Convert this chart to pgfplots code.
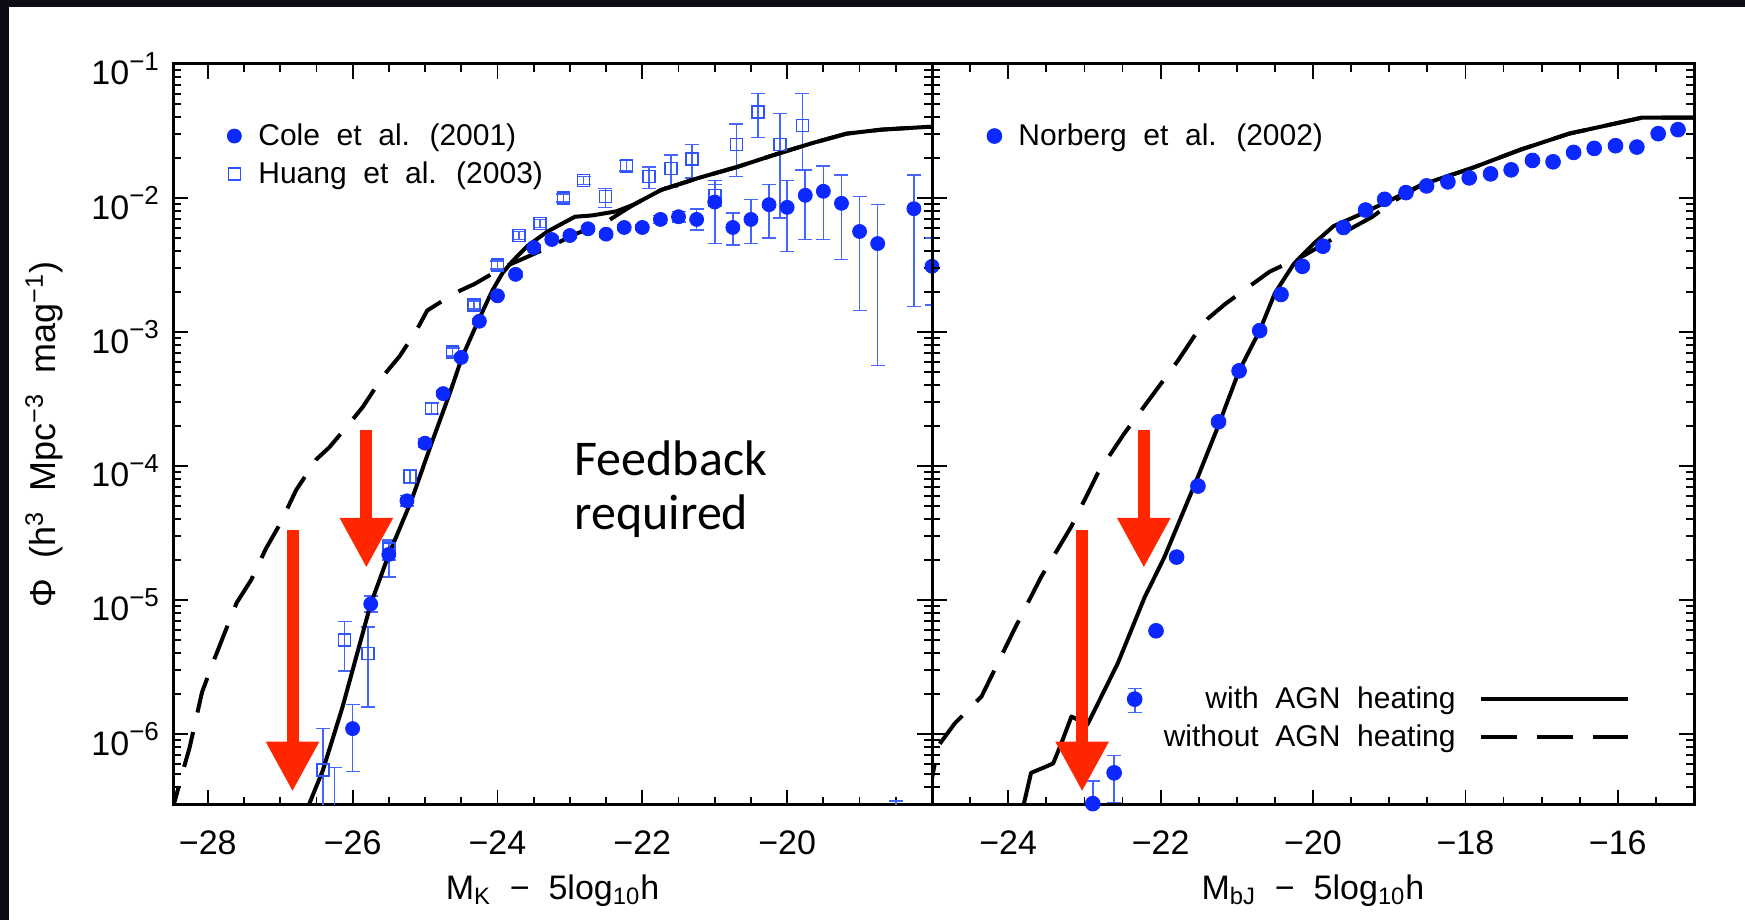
\documentclass[border=0pt]{standalone}
\usepackage{fontspec}
\setmainfont{Liberation Sans}
\newfontfamily\carlito{Carlito}
\usepackage{pgfplots}
\pgfplotsset{compat=1.18}
\usetikzlibrary{arrows.meta}

\definecolor{dotblue}{RGB}{10,40,255}
\definecolor{errblue}{RGB}{70,100,255}
\definecolor{sqblue}{RGB}{45,85,255}
\definecolor{arrowred}{RGB}{255,38,0}
\definecolor{strip}{RGB}{12,12,22}

\newcommand{\tf}{\fontsize{17}{20}\selectfont}
\newcommand{\lf}{\fontsize{15}{18}\selectfont}
\newcommand{\tl}[1]{10\raisebox{0.42em}{\fontsize{13}{14}\selectfont −#1}}

\tikzset{
  colestyle/.style={only marks, mark=*, mark size=3.5pt, dotblue,
    mark options={draw=dotblue, fill=dotblue}},
  huangstyle/.style={only marks, mark=square, mark size=3pt, sqblue,
    mark options={draw=sqblue, fill=none, line width=0.8pt}},
  solidcurve/.style={black, line width=2pt, line join=round},
  dashcurve/.style={black, line width=2pt, dash pattern=on 18pt off 10pt},
  redarrow/.style={arrowred, line width=6pt, -{Triangle[length=25pt,width=25pt]}},
}

\pgfplotsset{
  panel/.style={
    scale only axis,
    height=370.5pt,
    ymin=-6.53, ymax=-1,
    axis line style={line width=1.5pt},
    tick style={black, line width=0.9pt},
    major tick length=7.5pt,
    minor tick length=4pt,
    tick align=inside,
    ytick={-6,-5,-4,-3,-2,-1},
    minor ytick={-6.52288,-6.39794,-6.30103,-6.22185,-6.15490,-6.09691,-6.04576,
      -5.69897,-5.52288,-5.39794,-5.30103,-5.22185,-5.15490,-5.09691,-5.04576,
      -4.69897,-4.52288,-4.39794,-4.30103,-4.22185,-4.15490,-4.09691,-4.04576,
      -3.69897,-3.52288,-3.39794,-3.30103,-3.22185,-3.15490,-3.09691,-3.04576,
      -2.69897,-2.52288,-2.39794,-2.30103,-2.22185,-2.15490,-2.09691,-2.04576,
      -1.69897,-1.52288,-1.39794,-1.30103,-1.22185,-1.15490,-1.09691,-1.04576},
    xticklabel style={anchor=base, yshift=-24.75pt, font=\tf},
    yticklabel style={font=\tf, xshift=-3.5pt, yshift=-2.5pt},
    xlabel style={at={(axis description cs:0.5,-0.127)}, anchor=base, font=\tf},
    legend style={draw=none, fill=none, inner sep=0pt, font=\lf, row sep=6.7pt,
      nodes={inner sep=0pt}},
    legend cell align=left,
    legend image code/.code={\draw[##1] plot coordinates {(0pt,0pt)};
      \path[draw=none, fill=none] (-4pt,0pt) -- (12pt,0pt);},
  },
  errs/.style={error bars/.cd, y dir=both, y explicit,
    error bar style={errblue, line width=0.8pt},
    error mark options={errblue, line width=0.8pt, mark size=3.5pt, rotate=90}},
}

\begin{document}
\begin{tikzpicture}
\fill[white] (0,0) rectangle (872.5pt,460pt);
\useasboundingbox (0,0) rectangle (872.5pt,460pt);
\fill[strip] (0,456.5pt) rectangle (872.5pt,460pt);
\fill[strip] (0,0) rectangle (4.5pt,460pt);

% ---------------- left panel ----------------
\begin{axis}[panel, at={(86.5pt,57.5pt)}, anchor=south west, width=379.5pt,
  xmin=-28.48, xmax=-18,
  xtick={-28,-26,-24,-22,-20}, xticklabels={−28,−26,−24,−22,−20},
  minor xtick={-27.5,-27,-26.5,-25.5,-25,-24.5,-23.5,-23,-22.5,-21.5,-21,-20.5,-19.5,-19,-18.5},
  yticklabels={\tl{6},\tl{5},\tl{4},\tl{3},\tl{2},\tl{1}},
  xlabel={M\textsubscript{K} \ − \ 5log\textsubscript{10}h},
  ylabel={Φ \ (h\textsuperscript{3} \ Mpc\textsuperscript{−3} \ mag\textsuperscript{−1})},
  ylabel style={at={(axis description cs:-0.17,0.5)}, anchor=center, font=\fontsize{18}{20}\selectfont},
  legend style={at={(axis description cs:0.0698,0.920)}, anchor=north west},
]
\addplot[huangstyle, forget plot, errs] table[x=M, y=ly,
  y error plus expr=\thisrow{hi}-\thisrow{ly},
  y error minus expr=\thisrow{ly}-\thisrow{lo}] {
M ly hi lo
-26.41 -6.27 -5.96 -6.80
-26.11 -5.30 -5.16 -5.53
-25.79 -5.40 -5.20 -5.80
-25.50 -4.62 -4.55 -4.70
-25.21 -4.08 -4.03 -4.13
-24.91 -3.57 -3.53 -3.61
-24.62 -3.15 -3.12 -3.18
-24.32 -2.80 -2.77 -2.83
-24.00 -2.50 -2.47 -2.53
-23.70 -2.28 -2.25 -2.31
-23.41 -2.19 -2.16 -2.22
-23.09 -2.00 -1.97 -2.03
-22.81 -1.87 -1.84 -1.90
-22.51 -1.99 -1.93 -2.07
-22.22 -1.76 -1.72 -1.80
-21.91 -1.84 -1.77 -1.93
-21.60 -1.78 -1.68 -1.92
-21.31 -1.71 -1.60 -1.85
-21.00 -1.98 -1.90 -2.06
-20.70 -1.60 -1.45 -1.84
-20.40 -1.36 -1.22 -1.55
-20.10 -1.60 -1.37 -2.15
-19.79 -1.46 -1.22 -1.79
};
\addplot[colestyle, forget plot, errs] table[x=M, y=ly,
  y error plus expr=\thisrow{hi}-\thisrow{ly},
  y error minus expr=\thisrow{ly}-\thisrow{lo}] {
M ly hi lo
-26.25 -6.80 -6.25 -7.50
-26.00 -5.96 -5.78 -6.28
-25.75 -5.03 -4.97 -5.09
-25.50 -4.66 -4.56 -4.83
-25.25 -4.26 -4.22 -4.30
-25.00 -3.83 -3.80 -3.86
-24.75 -3.46 -3.44 -3.48
-24.50 -3.19 -3.17 -3.21
-24.25 -2.92 -2.90 -2.94
-24.00 -2.73 -2.71 -2.75
-23.75 -2.57 -2.55 -2.59
-23.50 -2.37 -2.35 -2.39
-23.25 -2.31 -2.29 -2.33
-23.00 -2.28 -2.26 -2.30
-22.75 -2.23 -2.21 -2.25
-22.50 -2.27 -2.25 -2.29
-22.25 -2.22 -2.20 -2.24
-22.00 -2.22 -2.20 -2.24
-21.75 -2.16 -2.13 -2.19
-21.50 -2.14 -2.10 -2.18
-21.25 -2.16 -2.08 -2.24
-21.00 -2.03 -1.87 -2.34
-20.75 -2.22 -2.11 -2.35
-20.50 -2.16 -2.01 -2.34
-20.25 -2.05 -1.90 -2.30
-20.00 -2.07 -1.87 -2.40
-19.75 -1.98 -1.79 -2.31
-19.50 -1.95 -1.76 -2.31
-19.25 -2.04 -1.83 -2.46
-19.00 -2.25 -1.99 -2.84
-18.75 -2.34 -2.05 -3.25
-18.50 -6.57 -6.50 -6.70
-18.25 -2.08 -1.83 -2.81
-18.00 -2.51 -2.30 -2.80
};
\addplot[solidcurve, forget plot] table[x=M, y=ly] {
M ly
-26.65 -6.62
-26.59 -6.51
-26.41 -6.27
-26.14 -5.80
-25.75 -5.03
-25.50 -4.66
-25.19 -4.26
-24.91 -3.83
-24.66 -3.46
-24.49 -3.19
-24.26 -2.91
-24.07 -2.69
-23.93 -2.56
-23.79 -2.47
-23.59 -2.36
-23.31 -2.25
-22.93 -2.14
-22.69 -2.13
-22.36 -2.10
-22.12 -2.05
-21.74 -1.94
-21.22 -1.85
-20.70 -1.77
-20.13 -1.67
-19.65 -1.59
-19.18 -1.52
-18.70 -1.49
-18.08 -1.47
-18.00 -1.47
};
\addplot[dashcurve, forget plot] table[x=M, y=ly] {
M ly
-28.52 -6.65
-28.46 -6.51
-28.34 -6.27
-28.25 -6.10
-28.08 -5.69
-27.93 -5.47
-27.77 -5.25
-27.60 -5.02
-27.40 -4.85
-27.20 -4.62
-27.00 -4.43
-26.78 -4.18
-26.50 -3.95
-26.32 -3.86
-26.04 -3.68
-25.86 -3.56
-25.58 -3.33
-25.35 -3.18
-25.12 -2.99
-24.97 -2.84
-24.59 -2.71
-24.31 -2.64
-23.93 -2.52
-23.59 -2.44
-23.26 -2.36
-22.93 -2.27
-22.50 -2.18
-22.27 -2.10
-22.12 -2.05
-21.74 -1.94
-21.22 -1.85
-20.70 -1.77
-20.13 -1.67
-19.65 -1.59
-19.18 -1.52
-18.70 -1.49
-18.08 -1.47
-18.00 -1.47
};
\addlegendimage{colestyle}
\addlegendentry{Cole \ et \ al. \ (2001)}
\addlegendimage{huangstyle}
\addlegendentry{Huang \ et \ al. \ (2003)}
\draw[redarrow] (axis cs:-26.83,-4.48) -- (axis cs:-26.83,-6.43);
\draw[redarrow] (axis cs:-25.81,-3.73) -- (axis cs:-25.81,-4.76);
\node[anchor=north west, align=left, inner sep=0pt,
  font=\carlito\fontsize{25}{27}\selectfont] at (axis cs:-22.94,-3.81) {Feedback\\required};
\end{axis}

% ---------------- right panel ----------------
\begin{axis}[panel, at={(466pt,57.5pt)}, anchor=south west, width=381pt,
  xmin=-25, xmax=-15,
  xtick={-24,-22,-20,-18,-16}, xticklabels={−24,−22,−20,−18,−16},
  minor xtick={-24.5,-23.5,-23,-22.5,-21.5,-21,-20.5,-19.5,-19,-18.5,-17.5,-17,-16.5,-15.5},
  yticklabels={},
  xlabel={M\textsubscript{bJ} \ − \ 5log\textsubscript{10}h},
  legend style={at={(axis description cs:0.0709,0.920)}, anchor=north west},
]
\addplot[colestyle, mark size=3.7pt, forget plot, errs] table[x=M, y=ly,
  y error plus expr=\thisrow{hi}-\thisrow{ly},
  y error minus expr=\thisrow{ly}-\thisrow{lo}] {
M ly hi lo
-22.89 -6.52 -6.35 -6.70
-22.61 -6.29 -6.16 -6.51
-22.34 -5.74 -5.66 -5.84
-22.06 -5.23 -5.21 -5.25
-21.79 -4.68 -4.67 -4.69
-21.51 -4.15 -4.14 -4.16
-21.24 -3.67 -3.66 -3.68
-20.97 -3.29 -3.28 -3.30
-20.70 -2.99 -2.98 -3.00
-20.42 -2.72 -2.71 -2.73
-20.14 -2.51 -2.50 -2.52
-19.87 -2.36 -2.35 -2.37
-19.60 -2.22 -2.21 -2.23
-19.31 -2.09 -2.08 -2.10
-19.06 -2.01 -2.00 -2.02
-18.78 -1.96 -1.95 -1.97
-18.51 -1.91 -1.90 -1.92
-18.23 -1.88 -1.87 -1.89
-17.95 -1.85 -1.84 -1.86
-17.67 -1.82 -1.81 -1.83
-17.40 -1.79 -1.78 -1.80
-17.12 -1.72 -1.71 -1.73
-16.85 -1.73 -1.72 -1.74
-16.58 -1.66 -1.65 -1.67
-16.31 -1.63 -1.62 -1.64
-16.03 -1.61 -1.60 -1.62
-15.75 -1.62 -1.61 -1.63
-15.47 -1.52 -1.51 -1.53
-15.21 -1.49 -1.48 -1.50
};
\addplot[solidcurve, forget plot] table[x=M, y=ly] {
M ly
-23.85 -6.65
-23.79 -6.51
-23.70 -6.29
-23.53 -6.25
-23.41 -6.22
-23.31 -6.08
-23.17 -5.87
-22.96 -5.93
-22.56 -5.47
-22.21 -4.98
-21.95 -4.68
-21.51 -4.08
-21.25 -3.71
-20.97 -3.29
-20.70 -2.99
-20.50 -2.71
-20.25 -2.49
-19.99 -2.34
-19.73 -2.21
-19.41 -2.13
-18.96 -2.01
-18.57 -1.90
-18.25 -1.84
-17.93 -1.78
-17.28 -1.64
-16.64 -1.52
-16.00 -1.44
-15.68 -1.40
-15.00 -1.40
};
\addplot[dashcurve, forget plot] table[x=M, y=ly] {
M ly
-25.05 -6.48
-25.00 -6.33
-24.92 -6.09
-24.70 -5.92
-24.35 -5.72
-23.92 -5.22
-23.57 -4.83
-23.17 -4.45
-22.82 -4.05
-22.48 -3.76
-22.17 -3.52
-21.78 -3.22
-21.51 -2.99
-21.38 -2.90
-21.15 -2.79
-20.57 -2.55
-20.12 -2.43
-19.54 -2.24
-19.22 -2.14
-18.96 -2.03
-18.57 -1.90
-18.25 -1.84
-17.93 -1.78
-17.28 -1.64
-16.64 -1.52
-16.00 -1.44
-15.68 -1.40
-15.00 -1.40
};
\addlegendimage{colestyle, mark size=3.7pt}
\addlegendentry{Norberg \ et \ al. \ (2002)}
\draw[redarrow] (axis cs:-23.03,-4.48) -- (axis cs:-23.03,-6.43);
\draw[redarrow] (axis cs:-22.22,-3.73) -- (axis cs:-22.22,-4.76);
\end{axis}

% ---------------- overlay legend for the model curves ----------------
\begin{axis}[scale only axis, at={(466pt,57.5pt)}, anchor=south west,
  width=381pt, height=370.5pt, hide axis,
  xmin=-25, xmax=-15, ymin=-6.53, ymax=-1,
  legend style={draw=none, fill=none, inner sep=0pt, font=\lf, row sep=6.7pt,
    nodes={inner sep=0pt}, at={(axis description cs:0.916,0.160)}, anchor=north east},
  legend plot pos=right, legend cell align=right,
  legend image code/.code={\path[draw=none, fill=none] (-12.5pt,0pt) -- (0pt,0pt);
    \draw[#1] (0pt,0pt) -- (73.5pt,0pt);},
]
\addlegendimage{solidcurve}
\addlegendentry{with \ AGN \ heating}
\addlegendimage{dashcurve}
\addlegendentry{without \ AGN \ heating}
\end{axis}
\end{tikzpicture}
\end{document}
